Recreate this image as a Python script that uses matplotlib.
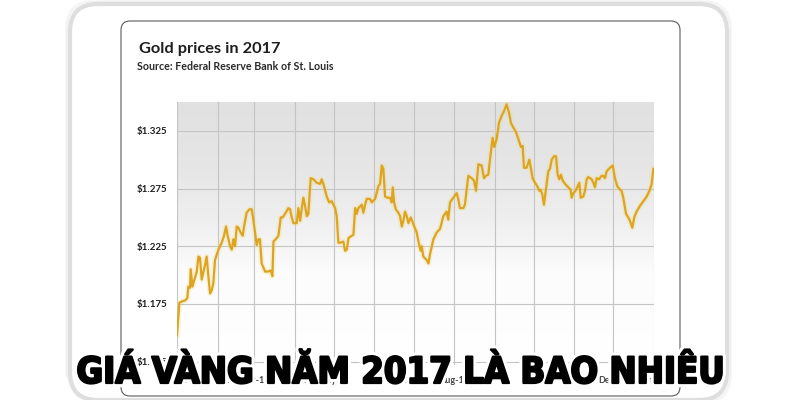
import matplotlib
matplotlib.use("Agg")
import datetime as dt
import numpy as np
import matplotlib.pyplot as plt
import matplotlib.dates as mdates
import matplotlib.patheffects as pe
from matplotlib import font_manager as fm
from matplotlib.colors import LinearSegmentedColormap
from matplotlib.patches import FancyBboxPatch

# ---- Data --------------------------------------------------------------------
# day of year 2017 (0 = Jan 1) and gold price in USD
DAY = [0, 1.8, 3.6, 6.2, 7.9, 8.7, 10.0, 10.5, 11.8, 13.3, 15.1, 16.4, 17.6,
       18.9, 21.5, 22.7, 24.0, 25.3, 26.6, 27.8, 29.1, 31.7, 34.2, 36.0, 37.5,
       38.8, 40.6, 41.9, 43.1, 44.4, 45.7, 47.0, 48.2, 50.3, 51.3, 53.3, 55.4,
       57.2, 58.4, 59.7, 61.0, 62.3, 63.5, 64.8, 67.4, 69.9, 71.7, 73.0, 73.8,
       76.3, 77.6, 79.4, 80.9, 82.7, 85.2, 86.5, 87.8, 89.1, 91.6, 92.9, 94.2,
       95.4, 96.7, 98.0, 99.3, 100.5, 102.3, 104.4, 106.9, 109.5, 110.7, 112.0,
       114.6, 116.4, 118.4, 121.0, 122.2, 123.5, 124.8, 127.3, 128.6, 129.9,
       131.2, 133.7, 135.0, 136.3, 137.5, 138.8, 141.4, 142.6, 143.9, 145.2,
       147.7, 149.0, 151.6, 154.1, 155.4, 156.7, 157.9, 159.2, 161.0, 163.0,
       164.3, 165.1, 166.1, 167.4, 169.4, 170.7, 172.0, 173.2, 174.5, 175.8,
       177.1, 178.9, 180.9, 183.4, 185.5, 186.5, 187.3, 188.5, 191.1, 192.4,
       193.6, 196.2, 198.8, 201.3, 203.8, 206.3, 207.6, 208.9, 211.4, 214.0,
       215.2, 216.5, 219.1, 220.3, 222.9, 225.4, 227.2, 228.8, 230.6, 233.1,
       234.9, 236.4, 238.2, 239.5, 241.5, 242.8, 244.6, 246.4, 248.4, 250.2,
       252.2, 254.0, 255.5, 257.3, 259.4, 261.2, 263.2, 264.5, 265.5, 267.5,
       269.6, 270.9, 272.1, 273.9, 275.7, 277.2, 278.3, 279.5, 280.8, 282.3,
       284.1, 285.4, 286.7, 288.5, 290.0, 291.3, 292.5, 293.8, 295.1, 296.9,
       299.4, 301.2, 302.0, 303.3, 305.0, 306.6, 307.8, 308.9, 310.9, 312.2,
       313.5, 314.7, 317.3, 318.6, 319.8, 321.1, 322.9, 324.9, 326.2, 327.5,
       328.8, 331.3, 333.4, 335.1, 336.9, 339.0, 340.2, 341.5, 343.6, 345.3,
       346.6, 348.4, 349.9, 351.7, 354.3, 356.8, 359.4, 361.9, 363.2, 364.5]
PRICE = [1148, 1176, 1177, 1178, 1180, 1190, 1189, 1205, 1190, 1196, 1203,
         1216, 1215, 1196, 1209, 1216, 1199, 1184, 1187, 1193, 1213, 1222,
         1228, 1234, 1242, 1234, 1225, 1222, 1231, 1225, 1242, 1241, 1238,
         1234, 1242, 1254, 1257, 1257, 1248, 1237, 1226, 1231, 1231, 1210,
         1203, 1203, 1204, 1199, 1229, 1232, 1234, 1250, 1250, 1253, 1258,
         1257, 1250, 1245, 1245, 1258, 1247, 1257, 1267, 1260, 1251, 1253,
         1284, 1283, 1280, 1279, 1283, 1279, 1268, 1263, 1264, 1258, 1251,
         1228, 1228, 1229, 1221, 1222, 1232, 1234, 1235, 1258, 1253, 1258,
         1261, 1254, 1261, 1266, 1266, 1263, 1266, 1277, 1279, 1295, 1292,
         1268, 1267, 1267, 1263, 1276, 1263, 1257, 1254, 1251, 1242, 1247,
         1255, 1251, 1245, 1250, 1244, 1237, 1225, 1221, 1225, 1216, 1213,
         1210, 1218, 1231, 1237, 1240, 1251, 1255, 1248, 1263, 1267, 1271,
         1266, 1258, 1258, 1261, 1286, 1284, 1282, 1273, 1296, 1295, 1284,
         1286, 1287, 1300, 1319, 1311, 1318, 1332, 1338, 1342, 1348, 1341,
         1332, 1328, 1324, 1318, 1311, 1312, 1293, 1293, 1300, 1292, 1284,
         1280, 1277, 1273, 1274, 1270, 1261, 1274, 1290, 1292, 1300, 1303,
         1303, 1287, 1283, 1287, 1282, 1279, 1276, 1274, 1267, 1271, 1273,
         1277, 1280, 1267, 1268, 1273, 1283, 1285, 1283, 1280, 1276, 1284,
         1283, 1286, 1286, 1284, 1290, 1293, 1295, 1284, 1277, 1274, 1273,
         1267, 1253, 1250, 1247, 1241, 1250, 1255, 1260, 1264, 1268, 1274,
         1279, 1292]

Y_TICKS = [1125, 1175, 1225, 1275, 1325]
Y_TICK_LABELS = ["$1.125", "$1.175", "$1.225", "$1.275", "$1.325"]

TITLE = "Gold prices in 2017"
SOURCE = "Source: Federal Reserve Bank of St. Louis"
BANNER = "GIÁ VÀNG NĂM 2017 LÀ BAO NHIÊU"

# ---- Styles --------------------------------------------------------------------
GOLD = "#DDA51F"
GRID = "#c4c4c4"
INK = "#1e1e1e"

installed = {f.name for f in fm.fontManager.ttflist}
SANS = "Lato" if "Lato" in installed else "DejaVu Sans"


def pick_banner_font():
    # narrowest heavy face we can find, else a black weight
    for f in fm.fontManager.ttflist:
        narrow = (f.stretch in ("condensed", "semi-condensed", "extra-condensed",
                                "ultra-condensed")
                  or "Condensed" in f.name or "Narrow" in f.name)
        heavy = isinstance(f.weight, int) and f.weight >= 700
        if narrow and heavy and f.style == "normal":
            return fm.FontProperties(fname=f.fname)
    for fam in ("Roboto", "Lato", "Inter", "Noto Sans"):
        for f in fm.fontManager.ttflist:
            if f.name == fam and f.style == "normal" and \
                    isinstance(f.weight, int) and f.weight >= 800:
                return fm.FontProperties(fname=f.fname)
    return fm.FontProperties(family="DejaVu Sans", weight="bold")


BIG_FP = pick_banner_font()

fig = plt.figure(figsize=(8, 4), dpi=100)

# ---- Background card (pixel coordinates) ---------------------------------------
bg = fig.add_axes([0, 0, 1, 1], zorder=0)
bg.set_xlim(0, 800)
bg.set_ylim(400, 0)
bg.axis("off")
# soft shadow + outer frame
for i, a in enumerate([0.05, 0.05, 0.06]):
    bg.add_patch(FancyBboxPatch((70 - 2 - i, 4 - 1 - i), 657 + 2 * (2 + i),
                                396 + 2 * (1 + i),
                                boxstyle="round,pad=0,rounding_size=28",
                                facecolor="none", edgecolor="#888888",
                                lw=1.5, alpha=a))
bg.add_patch(FancyBboxPatch((70, 4), 657, 396,
                            boxstyle="round,pad=0,rounding_size=28",
                            facecolor="white", edgecolor="#dedede", lw=3.0))
# inner card
bg.add_patch(FancyBboxPatch((121, 21), 559, 375,
                            boxstyle="round,pad=0,rounding_size=9",
                            facecolor="white", edgecolor="#5a5a5a", lw=0.8))
bg.text(139, 53, TITLE, fontsize=11.8, fontweight="bold", color=INK,
        family=SANS, ha="left", va="baseline")
bg.text(137, 70, SOURCE, fontsize=7.7, fontweight="bold", color="#2a2a2a",
        family=SANS, ha="left", va="baseline")

# ---- Plot ----------------------------------------------------------------------
ax = fig.add_axes([177 / 800, 35 / 400, 477 / 800, 263 / 400], zorder=1)
start = dt.datetime(2017, 1, 1)
dates = [start + dt.timedelta(days=d) for d in DAY]

grad_cmap = LinearSegmentedColormap.from_list(
    "bg", [(0.0, "#ffffff"), (0.35, "#fcfcfc"), (0.55, "#efefef"),
           (0.75, "#e6e6e6"), (1.0, "#e1e1e1")])
ax.imshow(np.linspace(1, 0, 256).reshape(-1, 1), cmap=grad_cmap,
          extent=[0, 1, 0, 1], transform=ax.transAxes, aspect="auto",
          zorder=0, vmin=0, vmax=1)

ax.plot(dates, PRICE, color="#f3d77a", lw=4.0, alpha=0.25,
        solid_joinstyle="round", zorder=2)
ax.plot(dates, PRICE, color=GOLD, lw=1.6, solid_joinstyle="round", zorder=3)

ax.set_xlim(start, dt.datetime(2018, 1, 1))
ax.set_ylim(1122, 1350)
ax.set_yticks(Y_TICKS)
ax.set_yticklabels(Y_TICK_LABELS)
ax.xaxis.set_major_locator(mdates.MonthLocator())
ax.xaxis.set_major_formatter(mdates.DateFormatter("%b-%y"))
ax.grid(True, color=GRID, lw=0.8, zorder=1)
ax.set_axisbelow(True)
ax.tick_params(length=0)
ax.tick_params(axis="y", pad=7, labelsize=7, labelcolor=INK)
ax.tick_params(axis="x", pad=8, labelsize=6.5, labelcolor="#444444")
for lab in ax.get_yticklabels() + ax.get_xticklabels():
    lab.set_family(SANS)
    lab.set_fontweight("bold")
for s in ax.spines.values():
    s.set_visible(False)
ax.patch.set_alpha(0)

# ---- Banner text: sized so it spans about 650 px ---------------------------------
banner = fig.text(0.5, 1 - 383 / 400, BANNER, ha="center", va="baseline",
                  fontproperties=BIG_FP, fontsize=40, color="black", zorder=10,
                  path_effects=[pe.Stroke(linewidth=6, foreground="white"),
                                pe.Stroke(linewidth=1.6, foreground="black"),
                                pe.Normal()])
renderer = fig.canvas.get_renderer()
w = banner.get_window_extent(renderer).width
banner.set_fontsize(40 * 648 / w)

fig.savefig("out.png", dpi=100, facecolor="white")
